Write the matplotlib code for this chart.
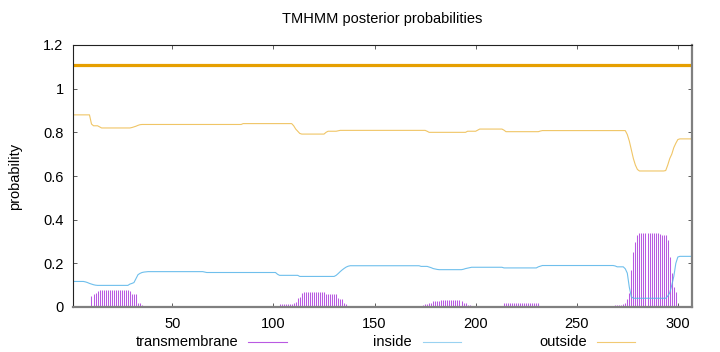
import matplotlib
matplotlib.use("Agg")
import matplotlib.pyplot as plt
from matplotlib.lines import Line2D
import numpy as np

# ---------------- data ----------------
n_res = 307
positions = list(range(1, n_res + 1))

transmembrane = (
    [0.0] * 6 + [0.003] * 3 +
    [0.05, 0.058, 0.065, 0.073, 0.078] +
    [0.08] * 14 + [0.075] + [0.06] * 3 + [0.017] * 2 + [0.01] +
    [0.0] * 29 +                      # 36-64
    [0.004] * 19 +                    # 65-83
    [0.0] * 19 +                      # 84-102
    [0.012] * 7 + [0.02, 0.023, 0.04, 0.047, 0.062] +   # 103-114
    [0.068] * 11 + [0.058] * 6 + [0.043, 0.035, 0.035, 0.02, 0.014] +  # 115-136
    [0.0] * 32 +                      # 137-168
    [0.003] * 5 + [0.009, 0.013, 0.015, 0.018, 0.02, 0.026, 0.027, 0.028, 0.028, 0.03] +  # 169-183
    [0.031] * 9 + [0.027, 0.02, 0.02, 0.009, 0.009] +   # 184-197
    [0.002] * 16 +                    # 198-213
    [0.017] * 18 +                    # 214-231
    [0.002] * 37 +                    # 232-268
    [0.008] * 3 + [0.01, 0.015, 0.02, 0.035, 0.065, 0.17, 0.25, 0.3, 0.33] +  # 269-280
    [0.34] * 10 + [0.335, 0.33, 0.33, 0.33, 0.305, 0.23, 0.155, 0.09, 0.07, 0.008] +  # 281-300
    [0.0] * 7                         # 301-307
)

inside = (
    [0.117] * 6 + [0.115, 0.112, 0.108, 0.105, 0.102, 0.1] +   # 1-12
    [0.099] * 16 +                                             # 13-28
    [0.105, 0.108, 0.112, 0.13, 0.148, 0.154, 0.158, 0.16, 0.161] +  # 29-37
    [0.162] * 28 + [0.16] +                                    # 38-66
    [0.158] * 35 + [0.15] +                                    # 67-102
    [0.145] * 10 + [0.14] * 18 +                               # 103-130
    [0.145, 0.153, 0.162, 0.17, 0.177, 0.183, 0.187] +         # 131-137
    [0.189] * 35 +                                             # 138-172
    [0.186] * 4 + [0.183, 0.18, 0.176, 0.174, 0.172] +         # 173-181
    [0.171] * 12 + [0.173, 0.176, 0.178, 0.18] +               # 182-197
    [0.182] * 16 + [0.179] * 17 + [0.184, 0.187] +             # 198-232
    [0.19] * 36 +                                              # 233-268
    [0.188, 0.184, 0.184, 0.184, 0.184, 0.175, 0.155, 0.09, 0.047] +  # 269-277
    [0.04] * 17 +                                              # 278-294
    [0.05, 0.065, 0.1, 0.14, 0.2, 0.229] +                     # 295-300
    [0.232] * 7                                                # 301-307
)

outside = (
    [0.88] * 9 + [0.838, 0.83, 0.83, 0.83, 0.825] +            # 1-14
    [0.82] * 15 + [0.822, 0.825, 0.828, 0.832, 0.835] +        # 15-34
    [0.836] * 50 + [0.84] * 25 +                               # 35-109
    [0.83, 0.815, 0.805, 0.795] + [0.792] * 12 +               # 110-125
    [0.8, 0.805, 0.805, 0.805, 0.805, 0.805, 0.807] +          # 126-132
    [0.809] * 43 + [0.805] + [0.8] * 19 +                      # 133-195
    [0.805] * 5 + [0.81] + [0.815] * 12 + [0.81] +             # 196-214
    [0.803] * 17 + [0.806] + [0.808] * 42 +                    # 215-274
    [0.79, 0.76, 0.72, 0.68, 0.65, 0.63] +                     # 275-280
    [0.623] * 13 +                                             # 281-293
    [0.625, 0.65, 0.68, 0.7, 0.73, 0.75, 0.767] +              # 294-300
    [0.77] * 7                                                 # 301-307
)

assert len(transmembrane) == n_res, len(transmembrane)
assert len(inside) == n_res, len(inside)
assert len(outside) == n_res, len(outside)

topology_level = 1.11
x_ticks = [50, 100, 150, 200, 250, 300]
y_ticks = [0, 0.2, 0.4, 0.6, 0.8, 1.0, 1.2]
y_tick_labels = ["0", "0.2", "0.4", "0.6", "0.8", "1", "1.2"]
legend_labels = ["transmembrane", "inside", "outside"]

# ---------------- styling ----------------
C_TM = "#9400D3"
C_IN = "#56B4E9"
C_OUT = "#E69F00"
plt.rcParams["font.family"] = ["Liberation Sans", "DejaVu Sans"]
FS = 10.5

W, H = 720, 352
fig = plt.figure(figsize=(W / 100, H / 100), dpi=100)
L, R, T, B = 73.3, 692, 45, 307
ax = fig.add_axes([L / W, 1 - B / H, (R - L) / W, (B - T) / H])

ax.vlines(positions, 0, transmembrane, color=C_TM, linewidth=0.75, alpha=0.65)
ax.plot(positions, inside, color=C_IN, linewidth=0.8, alpha=0.85)
ax.plot(positions, outside, color=C_OUT, linewidth=0.8, alpha=0.6)
ax.plot([positions[0], positions[-1]], [topology_level, topology_level],
        color=C_OUT, linewidth=2.3, solid_capstyle="butt")

ax.set_xlim(1, n_res)
ax.set_ylim(0, 1.2)
ax.set_xticks(x_ticks)
ax.set_yticks(y_ticks)
ax.set_yticklabels(y_tick_labels)
ax.tick_params(direction="in", length=3, width=0.6, top=True, right=True,
               labelsize=FS, color="#444444", pad=7)
ax.tick_params(axis="x", pad=7)

for s in ("left", "top"):
    ax.spines[s].set_color("#222222")
    ax.spines[s].set_linewidth(0.8)
for s in ("right", "bottom"):
    ax.spines[s].set_color("#808080")
    ax.spines[s].set_linewidth(1.6)

fig.text((L + R) / 2 / W, 1 - 19 / H, "TMHMM posterior probabilities",
         ha="center", va="center", fontsize=FS)
fig.text(15 / W, 1 - 176 / H, "probability", rotation=90,
         ha="center", va="center", fontsize=FS)

# legend row below the axes
leg_y = 1 - 341.7 / H
text_right = [238, 412, 587]
line_spans = [(248, 287), (423, 461), (597, 635)]
for lab, xr, (x0, x1), c, a in zip(legend_labels, text_right, line_spans,
                                   [C_TM, C_IN, C_OUT], [0.65, 0.6, 0.55]):
    fig.text(xr / W, leg_y, lab, ha="right", va="center", fontsize=FS)
    fig.add_artist(Line2D([x0 / W, x1 / W], [leg_y, leg_y], color=c, alpha=a,
                          linewidth=0.8, transform=fig.transFigure))

fig.savefig("out.png", dpi=100)
